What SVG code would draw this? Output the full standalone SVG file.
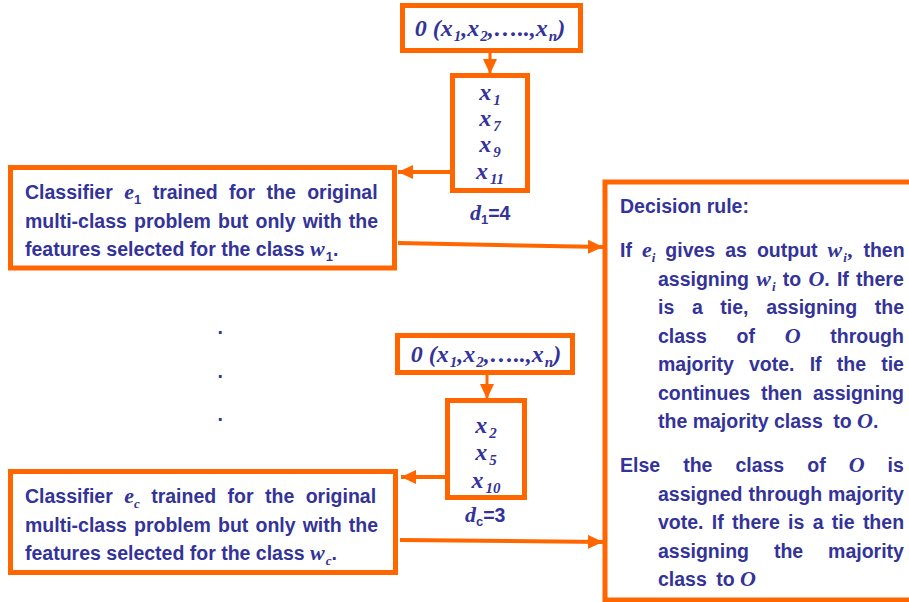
<svg xmlns="http://www.w3.org/2000/svg" width="909" height="602" viewBox="0 0 909 602">
  <style>
    .box { fill: #ffffff; stroke: #ff6600; stroke-width: 5; }
    .wire { stroke: #ff6600; fill: none; }
    .t { font-family: "Liberation Sans", Arial, sans-serif; font-weight: bold; font-size: 19.5px; fill: #333399; }
    .m { font-family: "Liberation Serif", "Times New Roman", serif; font-style: italic; font-weight: bold; font-size: 22px; fill: #333399; }
    .mx { font-family: "Liberation Serif", "Times New Roman", serif; font-style: italic; font-weight: bold; font-size: 24px; fill: #333399; }
    .s { font-size: 13px; }
    .ms { font-size: 15px; }
  </style>
  <defs>
    <marker id="head" markerUnits="userSpaceOnUse" markerWidth="15" markerHeight="14" refX="15" refY="7" orient="auto">
      <path d="M0,0 L15,7 L0,14 z" fill="#ff6600"/>
    </marker>
  </defs>

  <rect width="909" height="602" fill="#ffffff"/>

  <!-- connectors -->
  <g id="connectors">
    <line class="wire" x1="490" y1="53" x2="490" y2="74" stroke-width="3" marker-end="url(#head)"/>
    <line class="wire" x1="450" y1="172" x2="398" y2="172" stroke-width="4" marker-end="url(#head)"/>
    <line class="wire" x1="398" y1="243" x2="603" y2="247" stroke-width="4" marker-end="url(#head)"/>
    <line class="wire" x1="487" y1="375" x2="487" y2="399" stroke-width="3" marker-end="url(#head)"/>
    <line class="wire" x1="445" y1="477" x2="401" y2="477" stroke-width="4" marker-end="url(#head)"/>
    <line class="wire" x1="400" y1="540" x2="603" y2="542" stroke-width="4" marker-end="url(#head)"/>
  </g>

  <!-- input pattern, first branch -->
  <g id="input1">
    <rect class="box" x="402.5" y="5.5" width="178" height="45"/>
    <text class="mx" x="490" y="36" text-anchor="middle">0 (x<tspan class="ms" dx="1" dy="5">1</tspan><tspan dy="-5">,x</tspan><tspan class="ms" dx="1" dy="5">2</tspan><tspan dy="-5">,…..,x</tspan><tspan class="ms" dx="1" dy="5">n</tspan><tspan dy="-5">)</tspan></text>
  </g>

  <!-- selected features for class w1 -->
  <g id="features1">
    <rect class="box" x="452.5" y="75.5" width="75" height="115"/>
    <text class="mx" x="490" y="100" text-anchor="middle">x<tspan class="ms" dx="2" dy="5">1</tspan></text>
    <text class="mx" x="490" y="126" text-anchor="middle">x<tspan class="ms" dx="2" dy="5">7</tspan></text>
    <text class="mx" x="490" y="152" text-anchor="middle">x<tspan class="ms" dx="2" dy="5">9</tspan></text>
    <text class="mx" x="490" y="179" text-anchor="middle">x<tspan class="ms" dx="2" dy="5">11</tspan></text>
    <text class="t" x="470" y="220"><tspan class="m">d</tspan><tspan class="s" dy="4">1</tspan><tspan dy="-4">=4</tspan></text>
  </g>

  <!-- classifier e1 -->
  <g id="classifier1">
    <rect class="box" x="10.5" y="167.5" width="384" height="100.5"/>
    <text class="t" x="25" y="199" word-spacing="6">Classifier <tspan class="m">e</tspan><tspan class="s" dy="5">1</tspan><tspan dy="-5"> trained for the original</tspan></text>
    <text class="t" x="25" y="227.5" word-spacing="1.7">multi-class problem but only with the</text>
    <text class="t" x="25" y="256">features selected for the class <tspan class="m">w</tspan><tspan class="s" dx="1" dy="5">1</tspan><tspan dy="-5">.</tspan></text>
  </g>

  <!-- ellipsis between branches -->
  <g id="ellipsis">
    <text class="t" x="217.5" y="334">.</text>
    <text class="t" x="217.5" y="378">.</text>
    <text class="t" x="217.5" y="421">.</text>
  </g>

  <!-- input pattern, last branch -->
  <g id="input2">
    <rect class="box" x="397.5" y="335.5" width="175" height="37"/>
    <text class="mx" x="486" y="362" text-anchor="middle">0 (x<tspan class="ms" dx="1" dy="5">1</tspan><tspan dy="-5">,x</tspan><tspan class="ms" dx="1" dy="5">2</tspan><tspan dy="-5">,…..,x</tspan><tspan class="ms" dx="1" dy="5">n</tspan><tspan dy="-5">)</tspan></text>
  </g>

  <!-- selected features for class wc -->
  <g id="features2">
    <rect class="box" x="447.5" y="400.5" width="77" height="97"/>
    <text class="mx" x="486" y="433" text-anchor="middle">x<tspan class="ms" dx="2" dy="5">2</tspan></text>
    <text class="mx" x="486" y="460" text-anchor="middle">x<tspan class="ms" dx="2" dy="5">5</tspan></text>
    <text class="mx" x="486" y="488" text-anchor="middle">x<tspan class="ms" dx="2" dy="5">10</tspan></text>
    <text class="t" x="465" y="522"><tspan class="m">d</tspan><tspan class="s" dy="4">c</tspan><tspan dy="-4">=3</tspan></text>
  </g>

  <!-- classifier ec -->
  <g id="classifier2">
    <rect class="box" x="10.5" y="471.5" width="385" height="101"/>
    <text class="t" x="25" y="503" word-spacing="6">Classifier <tspan class="m">e</tspan><tspan class="m s" dy="5">c</tspan><tspan dy="-5"> trained for the original</tspan></text>
    <text class="t" x="25" y="531.5" word-spacing="1.7">multi-class problem but only with the</text>
    <text class="t" x="25" y="560">features selected for the class <tspan class="m">w</tspan><tspan class="m s" dx="1" dy="5">c</tspan><tspan dy="-5">.</tspan></text>
  </g>

  <!-- decision rule -->
  <g id="decision">
    <rect class="box" x="605" y="182" width="312" height="418"/>
    <text class="t" x="620" y="213">Decision rule:</text>
    <text class="t" x="620" y="257" word-spacing="4.6">If <tspan class="m">e</tspan><tspan class="m s" dy="5">i</tspan><tspan dy="-5"> gives as output </tspan><tspan class="m">w</tspan><tspan class="m s" dx="1" dy="5">i</tspan><tspan class="m" dx="1" dy="-5">,</tspan> then</text>
    <text class="t" x="658" y="285.5" word-spacing="1.8">assigning <tspan class="m">w</tspan><tspan class="m s" dx="1" dy="5">i</tspan><tspan dy="-5"> to </tspan><tspan class="m">O</tspan>. If there</text>
    <text class="t" x="658" y="314" word-spacing="12.2">is a tie, assigning the</text>
    <text class="t" x="658" y="342.5" word-spacing="24.3">class of <tspan class="m">O</tspan> through</text>
    <text class="t" x="658" y="371" word-spacing="9.75">majority vote. If the tie</text>
    <text class="t" x="658" y="399.5" word-spacing="5.45">continues then assigning</text>
    <text class="t" x="658" y="428">the majority class <tspan dx="5">to </tspan><tspan class="m">O</tspan>.</text>
    <text class="t" x="620" y="472" word-spacing="17.6">Else the class of <tspan class="m">O</tspan> is</text>
    <text class="t" x="658" y="500.5" word-spacing="0.5">assigned through majority</text>
    <text class="t" x="658" y="529" word-spacing="2.9">vote. If there is a tie then</text>
    <text class="t" x="658" y="557.5" word-spacing="19.5">assigning the majority</text>
    <text class="t" x="658" y="586">class <tspan dx="4">to </tspan><tspan class="m">O</tspan></text>
  </g>
</svg>
